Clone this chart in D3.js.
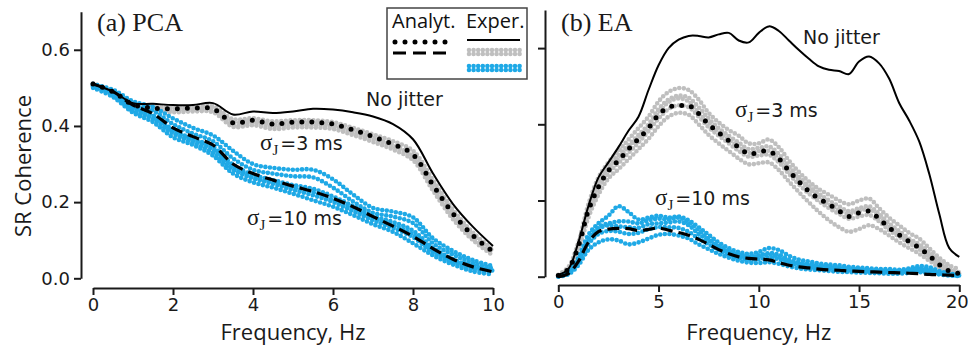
<!DOCTYPE html>
<html lang="en">
<head>
<meta charset="utf-8">
<title>SR Coherence vs Frequency</title>
<script src="https://d3js.org/d3.v7.min.js"></script>
<style>
  body { margin: 0; background: #fff; }
  .axis path, .axis line { stroke: #1a1a1a; stroke-width: 2; }
  .axis .tick text { font-family: "DejaVu Sans", sans-serif; font-size: 18px; fill: #1a1a1a; }
  .axlabel { font-family: "Open Sans", sans-serif; font-size: 22px; fill: #1a1a1a; }
  .ptitle { font-family: "Liberation Serif", serif; font-size: 26px; fill: #1a1a1a; }
  .note { font-family: "DejaVu Sans", sans-serif; font-size: 19px; fill: #1a1a1a; }
  .legtext { font-family: "Open Sans", sans-serif; font-size: 20px; fill: #111; }
</style>
</head>
<body>
<div id="vis"></div>
<script>
// ---------- data ----------
const freqA = [0,0.5,1,1.5,2,2.5,3,3.5,4,4.5,5,5.5,6,6.5,7,7.5,8,8.5,9,9.5,10];
const freqB = [0,0.5,1,1.5,2,2.5,3,3.5,4,4.5,5,5.5,6,6.5,7,7.5,8,8.5,9,9.5,10,
               10.5,11,11.5,12,12.5,13,13.5,14,14.5,15,15.5,16,16.5,17,17.5,18,18.5,19,19.5,20];

// (a) PCA
const noJitterA = [0.51,0.49,0.46,0.458,0.455,0.455,0.46,0.43,0.438,0.434,0.438,0.445,0.443,0.436,0.425,0.405,0.365,0.275,0.195,0.135,0.085];
const analyt3A  = [0.51,0.49,0.456,0.447,0.445,0.447,0.445,0.408,0.415,0.405,0.41,0.41,0.405,0.39,0.372,0.352,0.325,0.245,0.17,0.112,0.07];
const analyt10A = [0.51,0.49,0.455,0.432,0.395,0.372,0.35,0.30,0.275,0.258,0.242,0.228,0.21,0.188,0.162,0.137,0.11,0.078,0.05,0.03,0.017];
const exper3A = [
  [0.512,0.492,0.46,0.452,0.45,0.45,0.452,0.418,0.42,0.412,0.415,0.415,0.41,0.395,0.378,0.36,0.335,0.258,0.18,0.12,0.075],
  [0.508,0.488,0.453,0.443,0.44,0.442,0.44,0.402,0.408,0.398,0.402,0.402,0.398,0.382,0.365,0.345,0.318,0.238,0.162,0.105,0.064],
  [0.506,0.486,0.45,0.44,0.436,0.438,0.436,0.398,0.402,0.392,0.396,0.396,0.392,0.376,0.358,0.338,0.31,0.23,0.155,0.10,0.06],
  [0.51,0.49,0.458,0.448,0.446,0.446,0.448,0.41,0.414,0.404,0.408,0.408,0.402,0.388,0.37,0.35,0.322,0.25,0.172,0.114,0.072]
];
const exper10A = [
  [0.51,0.495,0.465,0.45,0.42,0.395,0.375,0.335,0.30,0.29,0.285,0.285,0.26,0.22,0.185,0.175,0.16,0.105,0.072,0.048,0.032],
  [0.505,0.488,0.455,0.44,0.405,0.38,0.36,0.315,0.285,0.275,0.268,0.265,0.238,0.202,0.172,0.162,0.145,0.092,0.062,0.04,0.026],
  [0.51,0.485,0.448,0.428,0.39,0.366,0.345,0.298,0.272,0.258,0.245,0.235,0.215,0.19,0.163,0.148,0.125,0.08,0.05,0.032,0.02],
  [0.505,0.48,0.44,0.418,0.38,0.356,0.33,0.285,0.262,0.248,0.232,0.218,0.2,0.176,0.152,0.132,0.108,0.068,0.042,0.024,0.014],
  [0.50,0.476,0.435,0.41,0.37,0.35,0.322,0.275,0.252,0.238,0.222,0.205,0.188,0.166,0.142,0.122,0.092,0.06,0.036,0.018,0.01],
  [0.505,0.482,0.445,0.422,0.385,0.362,0.338,0.29,0.266,0.252,0.238,0.226,0.205,0.182,0.158,0.14,0.115,0.072,0.045,0.028,0.016]
];

// (b) EA
const noJitterB = [0.005,0.02,0.09,0.185,0.26,0.30,0.34,0.383,0.42,0.49,0.555,0.60,0.622,0.632,0.632,0.628,0.636,0.64,0.62,0.615,0.64,
                   0.657,0.645,0.62,0.595,0.572,0.552,0.543,0.54,0.532,0.565,0.578,0.56,0.52,0.456,0.41,0.355,0.27,0.165,0.075,0.052];
const analyt3B  = [0.003,0.02,0.08,0.174,0.235,0.278,0.305,0.335,0.362,0.39,0.425,0.445,0.448,0.45,0.428,0.40,0.378,0.357,0.34,0.322,0.327,
                   0.33,0.31,0.278,0.25,0.224,0.205,0.19,0.173,0.158,0.168,0.172,0.152,0.128,0.11,0.092,0.076,0.055,0.032,0.015,0.008];
const analyt10B = [0.0,0.008,0.04,0.09,0.118,0.125,0.127,0.126,0.121,0.124,0.128,0.122,0.116,0.109,0.098,0.085,0.071,0.06,0.052,0.048,0.046,
                   0.044,0.037,0.03,0.026,0.023,0.02,0.018,0.017,0.015,0.014,0.013,0.012,0.011,0.01,0.009,0.008,0.006,0.005,0.004,0.003];
const exper3B = [
  [0.005,0.025,0.09,0.19,0.26,0.30,0.33,0.36,0.39,0.42,0.46,0.485,0.495,0.49,0.465,0.43,0.405,0.385,0.37,0.35,0.35,
   0.36,0.34,0.305,0.275,0.25,0.23,0.215,0.20,0.19,0.20,0.205,0.18,0.155,0.135,0.115,0.10,0.075,0.05,0.03,0.02],
  [0.004,0.022,0.085,0.18,0.245,0.29,0.318,0.345,0.372,0.40,0.44,0.465,0.475,0.47,0.445,0.415,0.39,0.37,0.352,0.335,0.338,
   0.342,0.322,0.29,0.262,0.238,0.218,0.20,0.185,0.172,0.18,0.185,0.165,0.14,0.12,0.10,0.085,0.065,0.042,0.022,0.012],
  [0.003,0.018,0.078,0.168,0.23,0.272,0.298,0.325,0.352,0.382,0.415,0.44,0.45,0.445,0.42,0.392,0.37,0.35,0.33,0.315,0.318,
   0.32,0.30,0.27,0.242,0.218,0.198,0.18,0.165,0.152,0.158,0.162,0.145,0.122,0.105,0.088,0.072,0.052,0.032,0.016,0.008],
  [0.002,0.015,0.07,0.155,0.215,0.258,0.282,0.308,0.335,0.362,0.395,0.42,0.43,0.425,0.40,0.372,0.35,0.33,0.31,0.295,0.298,
   0.30,0.28,0.25,0.222,0.195,0.17,0.148,0.13,0.118,0.125,0.135,0.125,0.108,0.09,0.075,0.06,0.042,0.024,0.01,0.005],
  [0.004,0.02,0.082,0.175,0.24,0.285,0.31,0.34,0.365,0.395,0.43,0.458,0.468,0.46,0.43,0.405,0.38,0.36,0.342,0.325,0.33,
   0.33,0.312,0.28,0.255,0.232,0.21,0.19,0.175,0.165,0.172,0.178,0.158,0.132,0.112,0.095,0.08,0.06,0.038,0.02,0.01]
];
const exper10B = [
  [0.002,0.012,0.05,0.11,0.14,0.16,0.185,0.17,0.15,0.155,0.16,0.155,0.158,0.148,0.13,0.11,0.09,0.075,0.065,0.06,0.065,
   0.075,0.07,0.055,0.045,0.04,0.035,0.032,0.03,0.026,0.024,0.022,0.02,0.02,0.018,0.022,0.028,0.025,0.015,0.008,0.005],
  [0.002,0.01,0.045,0.10,0.13,0.14,0.145,0.145,0.14,0.148,0.152,0.15,0.155,0.142,0.122,0.10,0.082,0.068,0.058,0.052,0.056,
   0.062,0.058,0.045,0.038,0.034,0.03,0.028,0.025,0.022,0.02,0.018,0.016,0.016,0.015,0.018,0.022,0.02,0.012,0.006,0.004],
  [0.001,0.008,0.038,0.085,0.112,0.12,0.118,0.112,0.115,0.125,0.13,0.13,0.128,0.118,0.10,0.085,0.07,0.058,0.05,0.045,0.046,
   0.05,0.046,0.036,0.03,0.026,0.024,0.022,0.02,0.018,0.016,0.014,0.013,0.012,0.012,0.014,0.016,0.014,0.009,0.005,0.003],
  [0.0,0.006,0.03,0.07,0.09,0.098,0.095,0.085,0.09,0.10,0.11,0.112,0.108,0.10,0.085,0.072,0.06,0.05,0.042,0.037,0.036,
   0.038,0.034,0.027,0.022,0.019,0.017,0.015,0.013,0.012,0.011,0.01,0.009,0.008,0.008,0.01,0.012,0.01,0.006,0.003,0.002],
  [0.001,0.01,0.042,0.095,0.125,0.135,0.132,0.13,0.128,0.138,0.14,0.142,0.145,0.135,0.112,0.095,0.078,0.064,0.056,0.05,0.052,
   0.058,0.052,0.04,0.034,0.03,0.027,0.025,0.023,0.02,0.018,0.016,0.015,0.014,0.014,0.016,0.02,0.017,0.01,0.005,0.003]
];

const yTicks = [0, 0.2, 0.4, 0.6];
const xTicksA = [0, 2, 4, 6, 8, 10];
const xTicksB = [0, 5, 10, 15, 20];

// ---------- drawing ----------
const width = 968, height = 352;
const gray = "#bfbfbf", blue = "#1fa9e6";

const svg = d3.select("#vis").append("svg")
  .attr("width", width).attr("height", height);

const panels = [
  { title: "(a) PCA", freq: freqA, xd: [0, 10], xr: [93, 493], yr: [278.3, 11.7], xAxisY: 288, yAxisX: 81,
    xTicks: xTicksA, yLabels: true, noJ: noJitterA, a3: analyt3A, a10: analyt10A, e3: exper3A, e10: exper10A },
  { title: "(b) EA", freq: freqB, xd: [0, 20], xr: [558.3, 959.3], yr: [276.7, 10], xAxisY: 285, yAxisX: 545,
    xTicks: xTicksB, yLabels: false, noJ: noJitterB, a3: analyt3B, a10: analyt10B, e3: exper3B, e10: exper10B }
];

panels.forEach(p => {
  const x = d3.scaleLinear().domain(p.xd).range(p.xr);
  const y = d3.scaleLinear().domain([0, 0.7]).range(p.yr);
  const line = d3.line()
    .x((d, i) => x(p.freq[i]))
    .y(d => y(d))
    .curve(d3.curveCatmullRom.alpha(0.5));

  const g = svg.append("g");

  // experimental trials as dense dots
  p.e3.forEach(tr => {
    g.append("path").attr("d", line(tr)).attr("fill", "none")
      .attr("stroke", gray).attr("stroke-width", 4.6)
      .attr("stroke-linecap", "round").attr("stroke-dasharray", "0,4.6");
  });
  p.e10.forEach(tr => {
    g.append("path").attr("d", line(tr)).attr("fill", "none")
      .attr("stroke", blue).attr("stroke-width", 4.6)
      .attr("stroke-linecap", "round").attr("stroke-dasharray", "0,4.6");
  });

  // analytic curves
  g.append("path").attr("d", line(p.a3)).attr("fill", "none")
    .attr("stroke", "#000").attr("stroke-width", 5)
    .attr("stroke-linecap", "round").attr("stroke-dasharray", "0,10");
  g.append("path").attr("d", line(p.a10)).attr("fill", "none")
    .attr("stroke", "#000").attr("stroke-width", 3.2)
    .attr("stroke-dasharray", "12,6");

  // no jitter
  g.append("path").attr("d", line(p.noJ)).attr("fill", "none")
    .attr("stroke", "#000").attr("stroke-width", 2);

  // axes
  const yAxis = d3.axisLeft(y).tickValues(yTicks).tickSize(7).tickSizeOuter(0).tickPadding(4)
    .tickFormat(p.yLabels ? d3.format(".1f") : "");
  svg.append("g").attr("class", "axis")
    .attr("transform", "translate(" + p.yAxisX + ",0)")
    .call(yAxis);

  const xAxis = d3.axisBottom(x).tickValues(p.xTicks).tickSize(7).tickSizeOuter(0).tickPadding(3)
    .tickFormat(d3.format("d"));
  const xg = svg.append("g").attr("class", "axis")
    .attr("transform", "translate(0," + p.xAxisY + ")")
    .call(xAxis);
  // keep the last label inside the picture
  xg.selectAll(".tick text").filter(d => d === 20).attr("text-anchor", "end").attr("dx", 9);

  svg.append("text").attr("class", "axlabel")
    .attr("x", (p.xr[0] + p.xr[1]) / 2).attr("y", 340)
    .attr("text-anchor", "middle").text("Frequency, Hz");

  svg.append("text").attr("class", "ptitle")
    .attr("x", p.yAxisX + 16).attr("y", 31).text(p.title);
});

// y label
svg.append("text").attr("class", "axlabel")
  .attr("transform", "translate(31,166) rotate(-90)")
  .attr("text-anchor", "middle").text("SR Coherence");

// curve annotations
function sigmaLabel(x0, y0, rest) {
  const t = svg.append("text").attr("class", "note").attr("x", x0).attr("y", y0);
  t.append("tspan").attr("font-family", "Liberation Serif").attr("font-size", 23).text("σ");
  t.append("tspan").attr("font-family", "Liberation Serif").attr("font-size", 15).attr("dy", 5).text("J");
  t.append("tspan").attr("dy", -5).attr("dx", 2).text(rest);
}
svg.append("text").attr("class", "note").attr("x", 366).attr("y", 106).text("No jitter");
sigmaLabel(260, 150, "=3 ms");
sigmaLabel(247, 225, "=10 ms");
svg.append("text").attr("class", "note").attr("x", 803).attr("y", 44).text("No jitter");
sigmaLabel(735, 117, "=3 ms");
sigmaLabel(655, 205, "=10 ms");

// legend
const leg = svg.append("g");
leg.append("rect").attr("x", 387).attr("y", 8).attr("width", 140).attr("height", 71)
  .attr("fill", "#fff").attr("stroke", "#444").attr("stroke-width", 1.5);
leg.append("text").attr("class", "legtext").attr("x", 392).attr("y", 28).text("Analyt.");
leg.append("text").attr("class", "legtext").attr("x", 466).attr("y", 28).text("Exper.");
const seg = (x1, x2, yy) => d3.line()([[x1, yy], [x2, yy]]);
leg.append("path").attr("d", seg(395, 446, 42)).attr("stroke", "#000").attr("stroke-width", 5)
  .attr("stroke-linecap", "round").attr("stroke-dasharray", "0,10");
leg.append("path").attr("d", seg(393, 447, 53)).attr("stroke", "#000").attr("stroke-width", 3)
  .attr("stroke-dasharray", "13,7");
leg.append("path").attr("d", seg(467, 520, 40)).attr("stroke", "#000").attr("stroke-width", 2);
[50, 54].forEach(yy => leg.append("path").attr("d", seg(469, 520, yy)).attr("stroke", gray)
  .attr("stroke-width", 4.6).attr("stroke-linecap", "round").attr("stroke-dasharray", "0,4.6"));
[66, 70].forEach(yy => leg.append("path").attr("d", seg(469, 520, yy)).attr("stroke", blue)
  .attr("stroke-width", 4.6).attr("stroke-linecap", "round").attr("stroke-dasharray", "0,4.6"));
</script>
</body>
</html>
